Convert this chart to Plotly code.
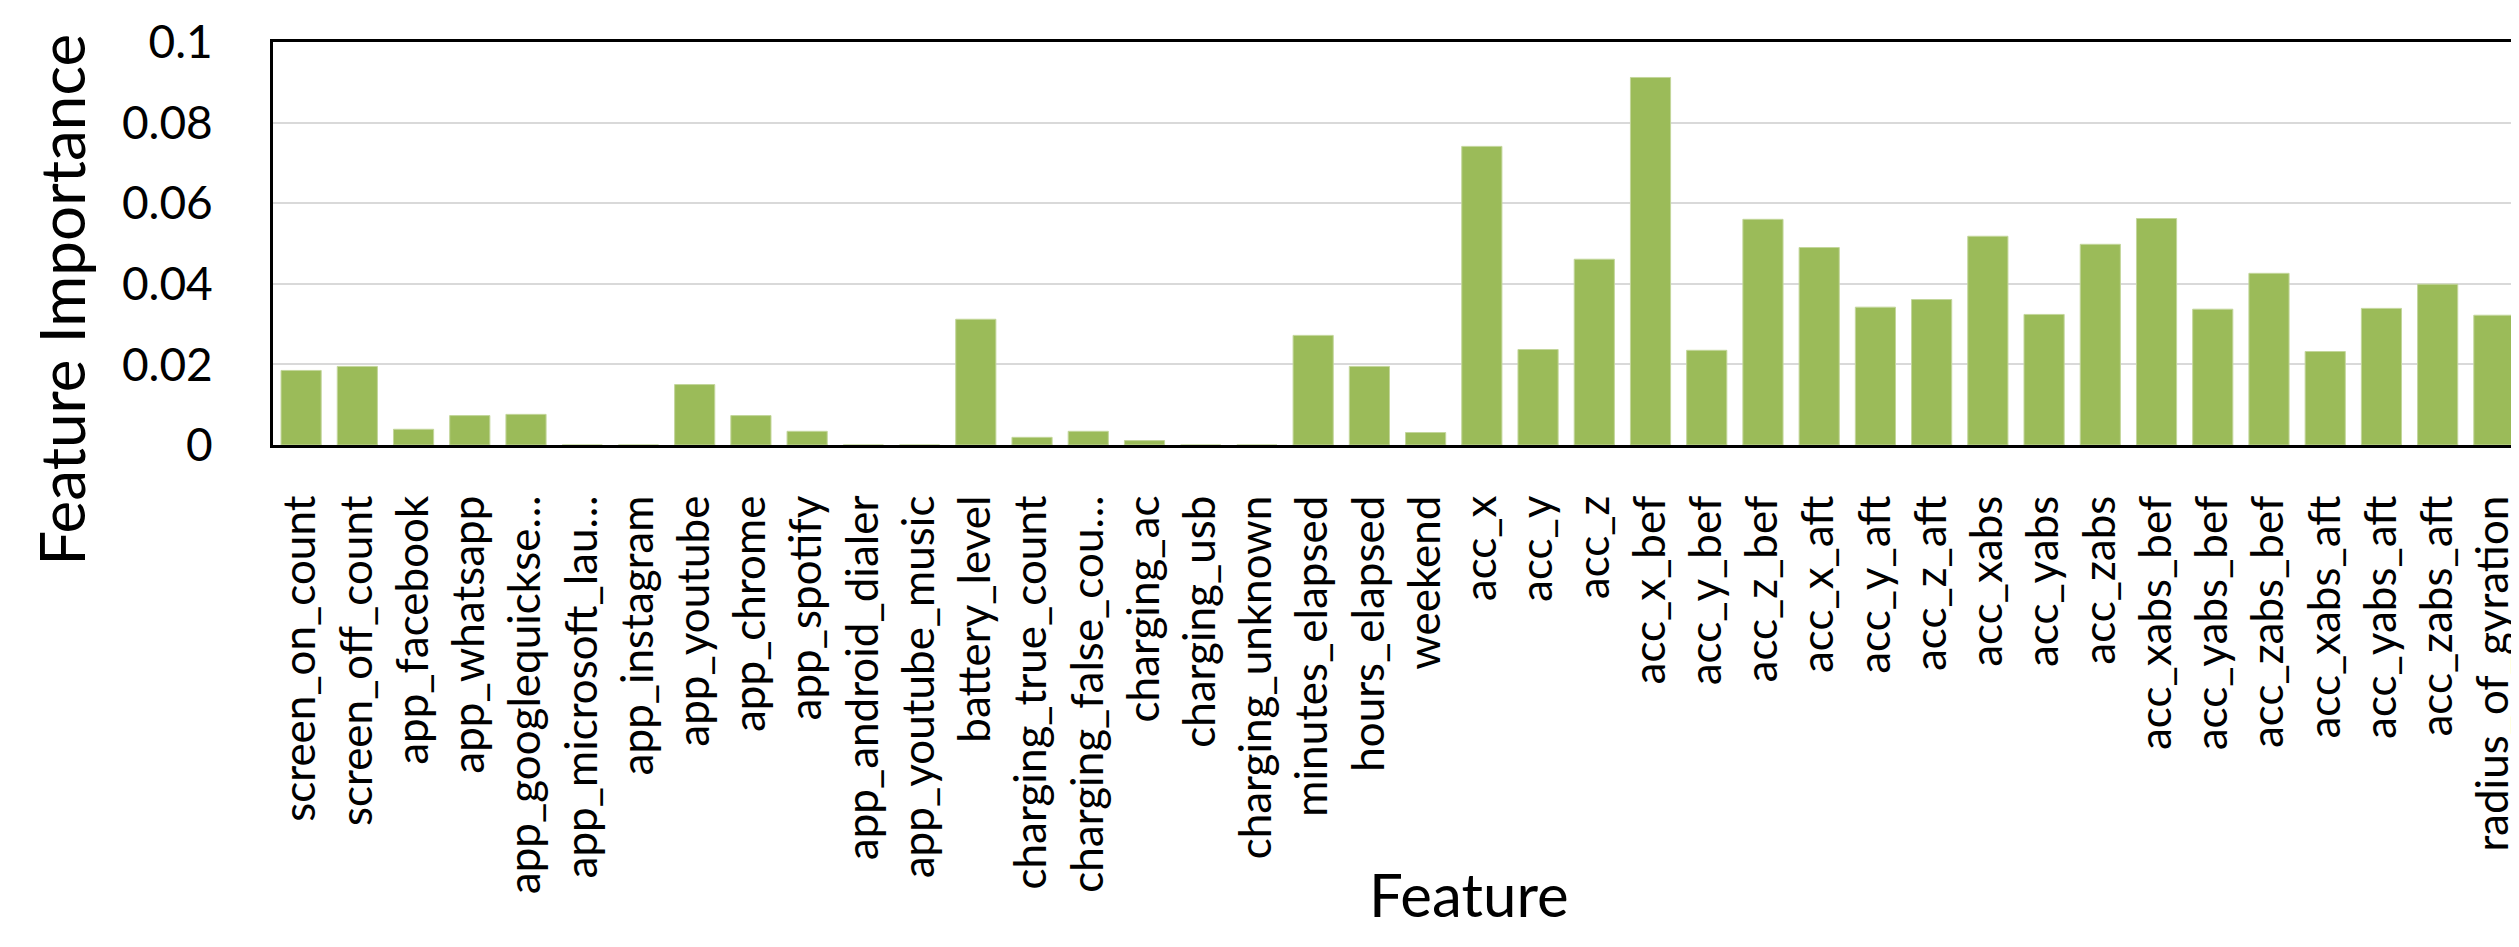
import plotly.graph_objects as go

features = [
    'screen_on_count', 'screen_off_count', 'app_facebook', 'app_whatsapp',
    'app_googlequickse\u2026', 'app_microsoft_lau\u2026', 'app_instagram', 'app_youtube',
    'app_chrome', 'app_spotify', 'app_android_dialer', 'app_youtube_music',
    'battery_level', 'charging_true_count', 'charging_false_cou\u2026', 'charging_ac',
    'charging_usb', 'charging_unknown', 'minutes_elapsed', 'hours_elapsed',
    'weekend', 'acc_x', 'acc_y', 'acc_z',
    'acc_x_bef', 'acc_y_bef', 'acc_z_bef', 'acc_x_aft',
    'acc_y_aft', 'acc_z_aft', 'acc_xabs', 'acc_yabs',
    'acc_zabs', 'acc_xabs_bef', 'acc_yabs_bef', 'acc_zabs_bef',
    'acc_xabs_aft', 'acc_yabs_aft', 'acc_zabs_aft', 'radius_of_gyration',
]

importance = [
    0.0185, 0.0195, 0.0039, 0.0073,
    0.0076, 0.0, 0.0, 0.0150,
    0.0073, 0.0034, 0.0, 0.0,
    0.0312, 0.0019, 0.0034, 0.0011,
    0.0, 0.0, 0.0272, 0.0195,
    0.0031, 0.0741, 0.0237, 0.0461,
    0.0912, 0.0235, 0.0560, 0.0490,
    0.0342, 0.0361, 0.0518, 0.0324,
    0.0498, 0.0562, 0.0337, 0.0426,
    0.0232, 0.0339, 0.0399, 0.0322,
]

yTicks = [0, 0.02, 0.04, 0.06, 0.08, 0.1]
yTickText = ['0', '0.02', '0.04', '0.06', '0.08', '0.1']

fontName = 'Lato'

fig = go.Figure()
fig.add_trace(go.Bar(
    x=features,
    y=importance,
    marker=dict(color='#9bbb59', line=dict(color='#c3d69b', width=1)),
))

fig.update_layout(
    width=2519,
    height=947,
    margin=dict(l=265, r=2, t=34, b=510),
    paper_bgcolor='white',
    plot_bgcolor='white',
    bargap=0.2857,
    showlegend=False,
    font=dict(family=fontName, color='black'),
)

fig.update_xaxes(
    tickangle=-90,
    tickfont=dict(family=fontName, size=44, color='black'),
    showline=True,
    linewidth=3,
    linecolor='black',
    mirror=True,
    ticks='',
    ticklabelstandoff=30,
    showgrid=False,
)

fig.update_yaxes(
    range=[0, 0.1],
    tickvals=yTicks,
    ticktext=yTickText,
    tickfont=dict(family=fontName, size=46, color='black'),
    showline=True,
    linewidth=3,
    linecolor='black',
    mirror=True,
    ticks='',
    ticklabelstandoff=48,
    showgrid=True,
    gridcolor='#d9d9d9',
    gridwidth=2,
    zeroline=False,
)

# axis titles placed as annotations, the reference has them off-centre
fig.add_annotation(
    text='Feature Importance', textangle=-90,
    xref='paper', yref='paper', x=-0.0946, y=0.361,
    xanchor='center', yanchor='middle', showarrow=False,
    font=dict(family=fontName, size=62, color='black'),
)
fig.add_annotation(
    text='Feature',
    xref='paper', yref='paper', x=0.532, y=-1.115,
    xanchor='center', yanchor='middle', showarrow=False,
    font=dict(family=fontName, size=60, color='black'),
)

fig.write_html("out.html")
